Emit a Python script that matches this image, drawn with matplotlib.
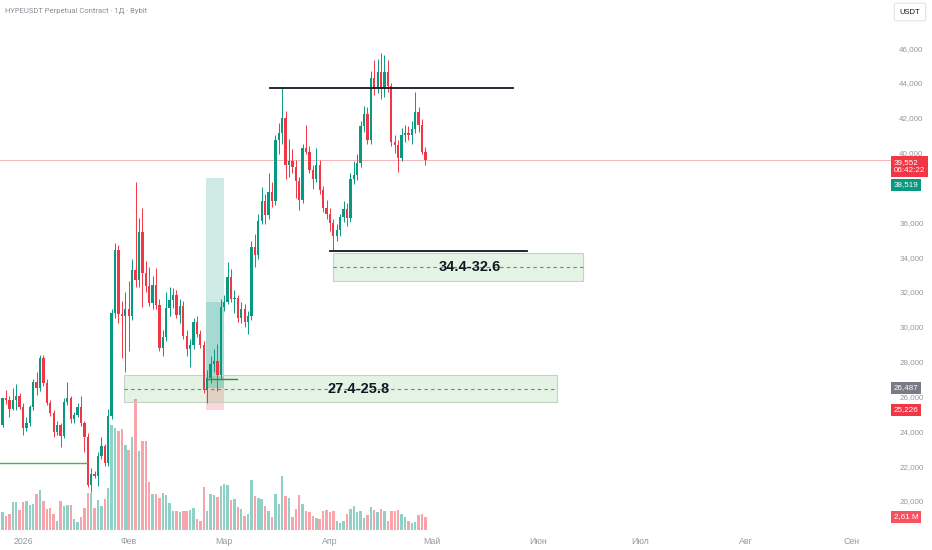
import numpy as np
import pandas as pd
import matplotlib
matplotlib.use("Agg")
import matplotlib.pyplot as plt
import matplotlib.dates as mdates
import matplotlib.transforms as mtransforms
from matplotlib.patches import Rectangle


# ==================================================
# DATA — HYPEUSDT daily candles (prices in thousands, volume in millions)
# ==================================================
first_day = "2025-12-26"

opens = [24.36, 25.9, 25.8, 25.3, 25.8, 26.0, 25.4, 24.2, 24.5, 25.4,
         26.85, 26.5, 28.2, 26.8, 25.6, 25.05, 23.95, 24.35, 23.75, 25.7,
         25.9, 24.7, 24.95, 25.4, 24.5, 23.7, 20.9, 21.55, 21.45, 22.6,
         23.15, 22.2, 24.9, 30.8, 34.4, 30.75, 30.6, 31.0, 30.6, 33.25,
         32.7, 35.45, 33.1, 32.35, 31.35, 32.4, 31.25, 28.8, 29.4, 31.1,
         31.55, 31.8, 30.7, 31.2, 29.45, 28.7, 28.95, 30.3, 29.6, 28.95,
         26.4, 27.05, 27.85, 28.05, 27.25, 31.15, 31.45, 32.85, 31.6, 31.65,
         30.5, 31.0, 30.3, 30.6, 34.6, 34.1, 36.1, 37.2, 36.4, 37.75,
         37.2, 40.7, 41.1, 42.0, 39.3, 39.5, 39.15, 38.35, 37.3, 40.25,
         40.05, 39.0, 38.5, 39.3, 37.85, 36.8, 36.5, 35.95, 35.2, 35.55,
         36.3, 36.75, 36.25, 38.5, 38.7, 39.4, 41.5, 42.2, 40.7, 44.3,
         43.7, 44.6, 43.7, 44.6, 43.8, 40.6, 40.45, 39.7, 41.0, 41.15,
         41.0, 41.35, 42.35, 41.6, 40.05]
highs = [25.9, 26.4, 26.0, 26.5, 26.7, 26.2, 25.6, 24.8, 25.5, 27.0,
         27.4, 28.4, 28.4, 27.0, 25.8, 25.2, 24.6, 24.5, 25.9, 26.85,
         26.0, 25.1, 25.6, 26.0, 24.6, 23.9, 21.9, 21.7, 22.8, 23.7,
         23.3, 25.3, 31.0, 34.8, 34.7, 31.5, 32.0, 32.6, 33.9, 38.3,
         36.25, 36.8, 33.8, 33.45, 32.9, 33.4, 31.6, 29.8, 32.0, 32.3,
         32.2, 32.1, 31.6, 31.5, 29.8, 29.3, 30.5, 30.6, 29.8, 29.2,
         27.5, 28.3, 28.7, 29.0, 31.6, 31.8, 33.7, 33.3, 32.1, 31.8,
         31.4, 31.3, 30.9, 34.9, 35.3, 36.5, 38.05, 37.6, 38.8, 38.3,
         41.0, 41.7, 43.7, 42.4, 40.8, 40.2, 39.6, 38.6, 40.5, 41.6,
         40.4, 39.3, 40.25, 39.6, 38.1, 37.3, 36.8, 36.2, 35.9, 36.5,
         37.2, 37.1, 38.8, 39.5, 39.9, 41.8, 42.7, 42.6, 44.7, 45.3,
         45.4, 45.7, 45.6, 45.3, 44.0, 41.0, 40.7, 41.4, 41.6, 41.5,
         41.8, 43.5, 42.6, 41.9, 40.3]
lows = [24.27, 25.55, 24.8, 25.2, 25.2, 25.3, 23.8, 24.0, 24.3, 25.2,
        26.1, 26.3, 26.6, 25.5, 24.9, 23.7, 23.8, 23.1, 23.6, 25.5,
        24.5, 24.5, 24.8, 24.3, 22.8, 20.8, 20.5, 21.3, 20.85, 22.4,
        22.0, 22.0, 24.7, 30.5, 30.2, 28.2, 27.4, 28.6, 30.4, 32.3,
        32.3, 31.15, 32.0, 31.2, 31.0, 31.0, 28.6, 28.3, 29.2, 30.6,
        31.1, 30.5, 30.2, 29.3, 28.3, 27.7, 28.7, 29.4, 28.8, 26.2,
        25.6, 26.8, 27.4, 26.3, 27.0, 30.9, 31.3, 31.4, 30.8, 30.3,
        30.2, 30.0, 29.6, 30.4, 33.45, 33.9, 35.9, 35.9, 36.2, 36.9,
        37.0, 39.9, 40.5, 38.5, 38.6, 38.8, 37.4, 36.7, 37.1, 39.9,
        38.8, 37.9, 38.3, 37.6, 36.6, 36.2, 35.5, 34.4, 34.9, 35.2,
        36.0, 35.8, 36.0, 38.2, 38.4, 39.2, 41.2, 40.5, 40.5, 43.3,
        43.4, 43.1, 43.2, 43.5, 40.4, 40.0, 38.9, 39.5, 40.6, 40.7,
        40.5, 41.1, 41.2, 39.9, 39.3]
closes = [25.9, 25.8, 25.3, 25.8, 26.0, 25.4, 24.2, 24.5, 25.4, 26.85,
          26.5, 28.2, 26.8, 25.6, 25.05, 23.95, 24.35, 23.75, 25.7, 25.9,
          24.7, 24.95, 25.4, 24.5, 23.7, 20.9, 21.55, 21.45, 22.6, 23.15,
          22.2, 24.9, 30.8, 34.4, 30.75, 30.6, 31.0, 30.6, 33.25, 32.7,
          35.45, 33.1, 32.35, 31.35, 32.4, 31.25, 28.8, 29.4, 31.1, 31.55,
          31.8, 30.7, 31.2, 29.45, 28.7, 28.95, 30.3, 29.6, 28.95, 26.4,
          27.05, 27.85, 28.05, 27.25, 31.15, 31.45, 32.85, 31.6, 31.65, 30.5,
          31.0, 30.3, 30.6, 34.6, 34.1, 36.1, 37.2, 36.4, 37.75, 37.2,
          40.7, 41.1, 42.0, 39.3, 39.5, 39.15, 38.35, 37.3, 40.25, 40.05,
          39.0, 38.5, 39.3, 37.85, 36.8, 36.5, 35.95, 35.2, 35.55, 36.3,
          36.75, 36.25, 38.5, 38.7, 39.4, 41.5, 42.2, 40.7, 44.3, 43.7,
          44.6, 43.7, 44.6, 43.8, 40.6, 40.45, 39.7, 41.0, 41.15, 41.0,
          41.35, 42.35, 41.6, 40.05, 39.552]
volumes = [3.7, 2.8, 3.3, 5.6, 5.6, 4.1, 5.6, 5.9, 5.1, 5.3,
           7.3, 8.0, 5.9, 4.3, 4.5, 3.3, 1.9, 5.8, 4.8, 5.1,
           5.0, 2.3, 1.7, 2.6, 4.5, 7.5, 7.5, 4.5, 6.1, 4.9,
           6.3, 8.4, 21.1, 20.4, 19.8, 20.3, 17.1, 16.1, 18.6, 26.2,
           15.9, 17.9, 17.9, 9.7, 7.3, 7.3, 6.5, 7.5, 7.1, 5.5,
           3.9, 3.8, 3.7, 3.9, 3.8, 4.1, 4.5, 2.3, 1.9, 8.6,
           3.9, 7.3, 7.0, 6.6, 8.8, 9.3, 9.1, 6.1, 6.3, 4.7,
           4.3, 2.9, 3.3, 10.1, 6.8, 6.5, 6.3, 4.8, 3.8, 2.7,
           7.3, 5.3, 10.9, 6.8, 6.5, 2.6, 4.3, 7.0, 5.3, 3.9,
           3.7, 2.8, 2.5, 2.3, 3.9, 4.0, 3.7, 3.8, 1.9, 1.5,
           1.8, 3.3, 4.3, 4.9, 3.6, 3.8, 2.5, 3.0, 4.6, 4.1,
           3.6, 4.3, 3.8, 1.9, 3.9, 3.8, 4.1, 3.3, 2.7, 1.8,
           1.5, 1.6, 3.1, 3.3, 2.61]

month_starts = ["2026-01-01", "2026-02-01", "2026-03-01", "2026-04-01", "2026-05-01",
                "2026-06-01", "2026-07-01", "2026-08-01", "2026-09-01"]
month_labels = ["2026", "Фев", "Мар", "Апр", "Май", "Июн", "Июл", "Авг", "Сен"]
price_ticks = list(range(20000, 47000, 2000))
hidden_ticks = [38000]          # covered by the 38,519 tag on the chart

# drawings (day offsets from 2026-01-01)
resistance = 43700
resistance_days = (72.4, 143.7)
support = 34350
support_days = (90.0, 147.8)
zone_tops = [34235, 27230]
zone_bottoms = [32630, 25680]
zone_days = [(90.9, 164.2), (29.6, 156.6)]
zone_labels = ["34.4-32.6", "27.4-25.8"]
zone_label_days = [131.1, 98.5]
old_low = 22200
old_low_end = 18.8
pos_days = (53.7, 59.0)
pos_target, pos_entry, pos_stop, pos_reached = 38519, 26487, 25226, 31450
entry_line = 27030
entry_line_days = (54.3, 62.8)
last_price = 39552
countdown = "06:42:22"

UP = "#089981"
DOWN = "#f23645"
AXIS_FONT = ["Liberation Sans", "DejaVu Sans"]

# ==================================================
# FIGURE
# ==================================================
W, H = 932, 550
fig = plt.figure(figsize=(W / 100, H / 100), dpi=100)
rect = [0, 20 / H, 893 / W, 530 / H]
ax_v = fig.add_axes(rect)
ax = fig.add_axes(rect)
ax.patch.set_alpha(0)

base = mdates.date2num(pd.Timestamp("2026-01-01"))
dates = mdates.date2num(pd.date_range(first_day, periods=len(closes)))
o = np.array(opens) * 1000
h = np.array(highs) * 1000
l = np.array(lows) * 1000
c = np.array(closes) * 1000
up = c >= o
cols = np.where(up, UP, DOWN)

# volume (behind the price pane)
vcols = [(8 / 255, 153 / 255, 129 / 255, 0.45) if u else (242 / 255, 54 / 255, 69 / 255, 0.45) for u in up]
ax_v.bar(dates, volumes, width=0.72, color=vcols, linewidth=0)
ax_v.set_ylim(0, 106)
ax_v.axis("off")

# candles
ax.vlines(dates, l, h, colors=cols, linewidth=0.7, zorder=4)
body_h = np.maximum(np.abs(c - o), 60)
ax.bar(dates, body_h, bottom=np.minimum(o, c), width=0.68, color=cols, linewidth=0, zorder=5)

# zones
for top, bot, (d0, d1) in zip(zone_tops, zone_bottoms, zone_days):
    ax.add_patch(Rectangle((base + d0, bot), d1 - d0, top - bot,
                           facecolor=(76 / 255, 175 / 255, 80 / 255, 0.15),
                           edgecolor="#c5d3c7", linewidth=0.8, zorder=2))
    ax.plot([base + d0, base + d1], [(top + bot) / 2] * 2, color="#26a69a",
            linewidth=0.8, dashes=(3, 3), zorder=3)
for lab, d, top, bot in zip(zone_labels, zone_label_days, zone_tops, zone_bottoms):
    ax.text(base + d, (top + bot) / 2, lab, ha="center", va="center", fontsize=10.5,
            fontweight="bold", family=["Liberation Sans", "DejaVu Sans"],
            color="#131722", zorder=7)

# long position tool
x0, x1 = base + pos_days[0], base + pos_days[1]
ax.add_patch(Rectangle((x0, pos_entry), x1 - x0, pos_target - pos_entry,
                       facecolor=(8 / 255, 153 / 255, 129 / 255, 0.2), linewidth=0, zorder=1))
ax.add_patch(Rectangle((x0, pos_entry), x1 - x0, pos_reached - pos_entry,
                       facecolor=(8 / 255, 153 / 255, 129 / 255, 0.2), linewidth=0, zorder=1))
ax.add_patch(Rectangle((x0, pos_stop), x1 - x0, pos_entry - pos_stop,
                       facecolor=(242 / 255, 54 / 255, 69 / 255, 0.2), linewidth=0, zorder=1))
ax.plot([base + entry_line_days[0], base + entry_line_days[1]], [entry_line] * 2,
        color="#388e3c", linewidth=1.0, zorder=6)

# horizontal lines
ax.plot([base + resistance_days[0], base + resistance_days[1]], [resistance] * 2,
        color="#131722", linewidth=1.3, zorder=6)
ax.plot([base + support_days[0], base + support_days[1]], [support] * 2,
        color="#131722", linewidth=1.3, zorder=6)
ax.plot([base - 7, base + old_low_end], [old_low] * 2, color="#4caf50", linewidth=1.0, zorder=6)
ax.axhline(last_price, color="#f7b3ba", linewidth=0.7, zorder=1)

# axes
xl = (base - 6.74, base + 255.1)
ax.set_xlim(xl)
ax_v.set_xlim(xl)
ax.set_ylim(18335, 48759)
for a in (ax, ax_v):
    for s in a.spines.values():
        s.set_visible(False)
ax.yaxis.tick_right()
ax.set_yticks(price_ticks)
ax.set_yticklabels(["" if p in hidden_ticks else f"{p:,}" for p in price_ticks],
                   family=AXIS_FONT)
ax.set_xticks([mdates.date2num(pd.Timestamp(m)) for m in month_starts])
ax.set_xticklabels(month_labels, family=AXIS_FONT)
ax.tick_params(axis="both", length=0, labelsize=5.8, labelcolor="#9598a1")
ax.tick_params(axis="x", labelsize=6.3, pad=5)
ax.tick_params(axis="y", pad=4.5)

# price tags on the right scale
trans = mtransforms.blended_transform_factory(ax.transAxes, ax.transData)


def tag(y, text, color, axis=ax, tr=trans):
    axis.text(1.001, y, text, transform=tr, ha="left", va="center", fontsize=5.8,
              family=AXIS_FONT, color="white", linespacing=1.3, zorder=20, clip_on=False,
              bbox=dict(boxstyle="square,pad=0.3", fc=color, ec="none"))


tag(last_price - 350, f"{last_price:,}\n{countdown}", DOWN)
tag(pos_target - 380, f"{pos_target:,}", UP)
tag(pos_entry, f"{pos_entry:,}", "#787b86")
tag(pos_stop, f"{pos_stop:,}", DOWN)
vtrans = mtransforms.blended_transform_factory(ax_v.transAxes, ax_v.transData)
tag(volumes[-1], "2,61 M", "#f7525f", axis=ax_v, tr=vtrans)

# header
fig.text(5 / W, 1 - 11 / H, "HYPEUSDT Perpetual Contract · 1Д · Bybit", fontsize=5.5,
         color="#8a8d96", va="center", ha="left", family=["Roboto", "DejaVu Sans"])
fig.text(910 / W, 1 - 12 / H, "USDT", fontsize=5.5, color="#131722", va="center", ha="center",
         family=AXIS_FONT,
         bbox=dict(boxstyle="round,pad=0.7,rounding_size=0.3", fc="white", ec="#e0e3eb", lw=0.8))

fig.savefig("out.png", dpi=100, facecolor="white")
